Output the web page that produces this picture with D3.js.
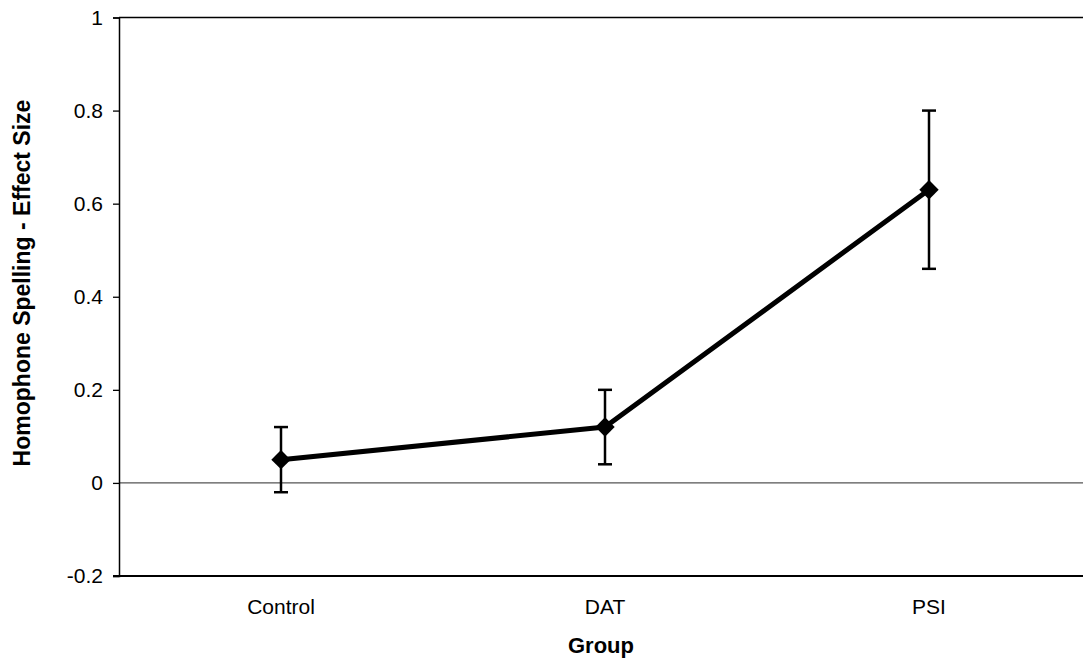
<!DOCTYPE html>
<html lang="en">
<head>
<meta charset="utf-8">
<style>
  body { margin: 0; background: #fff; }
  svg { display: block; font-family: "Liberation Sans", Arial, sans-serif; }
  .tick text { font-size: 21px; fill: #000; }
</style>
</head>
<body>
<svg width="1083" height="659"></svg>
<script src="https://cdn.jsdelivr.net/npm/d3@7"></script>
<script>
// data
var groups = ["Control", "DAT", "PSI"];
var effect = [0.05, 0.12, 0.63];
var errLow = [-0.02, 0.04, 0.46];
var errHigh = [0.12, 0.20, 0.80];
var yTicks = [-0.2, 0, 0.2, 0.4, 0.6, 0.8, 1];

var svg = d3.select("svg"),
    plotL = 119, plotT = 17.5, plotB = 576, plotR = 1091;

var x = d3.scaleBand().domain(groups).range([plotL, plotR]);
var y = d3.scaleLinear().domain([-0.2, 1]).range([plotB, plotT]);

var pts = groups.map(function (g, i) {
  return { g: g, v: effect[i], lo: errLow[i], hi: errHigh[i] };
});
function cx(d) { return x(d.g) + x.bandwidth() / 2; }

// top frame line
svg.append("line")
  .attr("x1", plotL).attr("x2", 1083)
  .attr("y1", plotT).attr("y2", plotT)
  .attr("stroke", "#000").attr("stroke-width", 1.5);

// zero line
svg.append("line")
  .attr("x1", plotL).attr("x2", 1083)
  .attr("y1", y(0)).attr("y2", y(0))
  .attr("stroke", "#555").attr("stroke-width", 1.3);

// y axis
var yAxis = svg.append("g")
  .attr("transform", "translate(" + plotL + ",0)")
  .call(d3.axisLeft(y).tickValues(yTicks).tickSize(6).tickPadding(10)
    .tickFormat(function (d) { return String(+d.toFixed(1)); }));
yAxis.select(".domain").attr("stroke", "#000").attr("stroke-width", 1.5);
yAxis.selectAll(".tick line").attr("stroke", "#000").attr("stroke-width", 1.3);

// bottom axis line (x axis, no ticks)
svg.append("line")
  .attr("x1", plotL - 6).attr("x2", 1083)
  .attr("y1", plotB).attr("y2", plotB)
  .attr("stroke", "#000").attr("stroke-width", 2.2);

// category labels
svg.selectAll(".cat")
  .data(pts).enter().append("text")
  .attr("class", "cat")
  .attr("x", cx)
  .attr("y", 614)
  .attr("text-anchor", "middle")
  .style("font-size", "21px")
  .text(function (d) { return d.g; });

// error bars
var eb = svg.selectAll(".err").data(pts).enter().append("g").attr("class", "err");
eb.append("line")
  .attr("x1", cx).attr("x2", cx)
  .attr("y1", function (d) { return y(d.lo); })
  .attr("y2", function (d) { return y(d.hi); })
  .attr("stroke", "#000").attr("stroke-width", 2.5);
["lo", "hi"].forEach(function (k) {
  eb.append("line")
    .attr("x1", function (d) { return cx(d) - 7; })
    .attr("x2", function (d) { return cx(d) + 7; })
    .attr("y1", function (d) { return y(d[k]); })
    .attr("y2", function (d) { return y(d[k]); })
    .attr("stroke", "#000").attr("stroke-width", 2.5);
});

// series line
var line = d3.line().x(cx).y(function (d) { return y(d.v); });
svg.append("path")
  .datum(pts)
  .attr("d", line)
  .attr("fill", "none")
  .attr("stroke", "#000")
  .attr("stroke-width", 5)
  .attr("stroke-linejoin", "round");

// diamond markers
svg.selectAll(".mark")
  .data(pts).enter().append("path")
  .attr("class", "mark")
  .attr("d", d3.symbol().type(d3.symbolDiamond2).size(240))
  .attr("transform", function (d) { return "translate(" + cx(d) + "," + y(d.v) + ")"; })
  .attr("fill", "#000");

// axis titles
svg.append("text")
  .attr("x", 601).attr("y", 653)
  .attr("text-anchor", "middle")
  .style("font-size", "22px").style("font-weight", "bold")
  .text("Group");

svg.append("text")
  .attr("transform", "translate(30,283) rotate(-90)")
  .attr("text-anchor", "middle")
  .style("font-size", "23px").style("font-weight", "bold")
  .text("Homophone Spelling - Effect Size");
</script>
</body>
</html>
